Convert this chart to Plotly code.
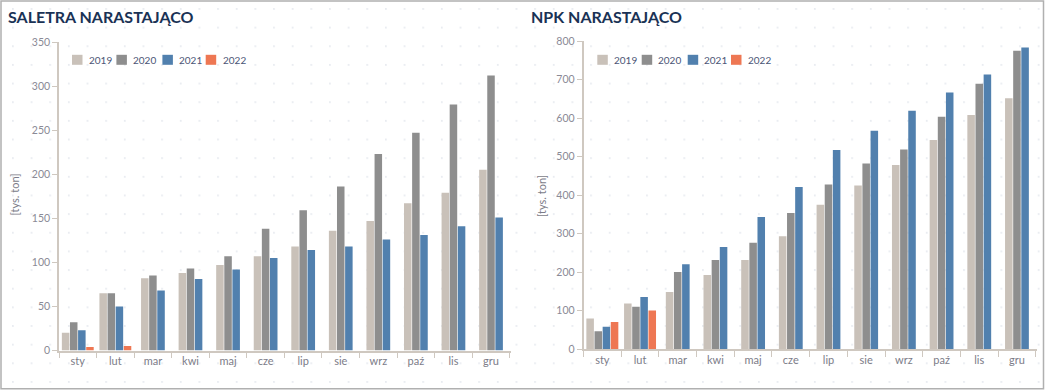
import base64
import plotly.graph_objects as go

W, H = 1046, 391

months = ["sty", "lut", "mar", "kwi", "maj", "cze", "lip", "sie", "wrz", "paź", "lis", "gru"]
years = ["2019", "2020", "2021", "2022"]

saletra_2019 = [20, 65, 82, 88, 97, 107, 118, 136, 147, 167, 179, 205]
saletra_2020 = [32, 65, 85, 93, 107, 138, 159, 186, 223, 247, 279, 312]
saletra_2021 = [23, 50, 68, 81, 92, 105, 114, 118, 126, 131, 141, 151]
saletra_2022 = [4, 5, None, None, None, None, None, None, None, None, None, None]

npk_2019 = [79, 118, 148, 192, 231, 293, 375, 425, 478, 543, 608, 651]
npk_2020 = [46, 110, 200, 231, 276, 353, 427, 482, 518, 603, 689, 775]
npk_2021 = [58, 135, 220, 265, 343, 421, 517, 567, 619, 666, 713, 783]
npk_2022 = [70, 100, None, None, None, None, None, None, None, None, None, None]

colors = {"2019": "#c9c1b9", "2020": "#8e8e8e", "2021": "#5180ae", "2022": "#ee7753"}

BAR_W = 0.2
PITCH = 0.216

AXIS_COL = "#cfc8c0"
FONT = "Lato, 'Open Sans', sans-serif"
TICK_FONT = dict(family=FONT, size=10.5, color="#8a8a96")
NAVY = "#1a3255"
LEGEND_TEXT = "#4b5576"


def px_x(p):
    return p / W


def px_y(p):
    return 1 - p / H


def offsets(series_list):
    """Per-trace offset arrays so each month group is centred on its own bar count."""
    n_per_cat = [sum(1 for s in series_list if s[i] is not None) for i in range(len(months))]
    return [[-n * PITCH / 2 + k * PITCH + (PITCH - BAR_W) / 2 for n in n_per_cat]
            for k in range(len(series_list))]


fig = go.Figure()

panels = [
    ("x", "y", [saletra_2019, saletra_2020, saletra_2021, saletra_2022]),
    ("x2", "y2", [npk_2019, npk_2020, npk_2021, npk_2022]),
]

for xa, ya, series in panels:
    offs = offsets(series)
    for k, (yr, vals) in enumerate(zip(years, series)):
        fig.add_trace(go.Bar(
            x=months, y=vals, name=yr, xaxis=xa, yaxis=ya, showlegend=False,
            width=[BAR_W] * len(months), offset=offs[k],
            marker=dict(color=colors[yr], line=dict(width=0)),
            hovertemplate="%{x} " + yr + ": %{y}<extra></extra>",
        ))

xaxis_common = dict(
    type="category", showline=True, linecolor=AXIS_COL, linewidth=1.5,
    ticks="outside", tickson="boundaries", ticklen=6, tickcolor=AXIS_COL, tickwidth=1,
    tickfont=dict(family=FONT, size=11, color="#7c7c88"),
    showgrid=False, zeroline=False, fixedrange=True,
)
yaxis_common = dict(
    showline=True, linecolor=AXIS_COL, linewidth=1.5,
    ticks="outside", ticklen=5, tickcolor=AXIS_COL, tickwidth=1,
    tickfont=TICK_FONT, showgrid=False, zeroline=False, fixedrange=True,
)

# legend (swatch + label) positions, in pixels, per panel
legend_swatch_dx = [0, 44.4, 90.4, 133.7]
legend_text_dx = [15, 58.7, 105, 148.7]
legend_origin = [72, 597.3]
legend_y_top, legend_y_bot = 54.8, 64.8

shapes = [dict(type="rect", xref="paper", yref="paper",
               x0=px_x(1), x1=px_x(1043.5), y0=px_y(388.8), y1=px_y(1),
               line=dict(color="#b0b0b0", width=1.5), fillcolor="rgba(0,0,0,0)", layer="above")]
annotations = []
for ox in legend_origin:
    for yr, sdx, tdx in zip(years, legend_swatch_dx, legend_text_dx):
        shapes.append(dict(type="rect", xref="paper", yref="paper",
                           x0=px_x(ox + sdx), x1=px_x(ox + sdx + 10.5),
                           y0=px_y(legend_y_bot), y1=px_y(legend_y_top),
                           line=dict(width=0), fillcolor=colors[yr]))
        annotations.append(dict(text=yr, xref="paper", yref="paper",
                                x=px_x(ox + tdx), y=px_y((legend_y_top + legend_y_bot) / 2),
                                xanchor="left", yanchor="middle", showarrow=False,
                                font=dict(family=FONT, size=10, color=LEGEND_TEXT)))

annotations += [
    dict(text="<b>SALETRA NARASTAJĄCO</b>", xref="paper", yref="paper", x=px_x(6), y=px_y(16.5),
         xanchor="left", yanchor="middle", showarrow=False,
         font=dict(family=FONT, size=16, color=NAVY)),
    dict(text="<b>NPK NARASTAJĄCO</b>", xref="paper", yref="paper", x=px_x(529), y=px_y(16.5),
         xanchor="left", yanchor="middle", showarrow=False,
         font=dict(family=FONT, size=16, color=NAVY)),
    dict(text="[tys. ton]", xref="paper", yref="paper", x=px_x(13.5), y=px_y(195),
         xanchor="center", yanchor="middle", textangle=-90, showarrow=False,
         font=dict(family=FONT, size=11, color="#7c7c88")),
    dict(text="[tys. ton]", xref="paper", yref="paper", x=px_x(541), y=px_y(196),
         xanchor="center", yanchor="middle", textangle=-90, showarrow=False,
         font=dict(family=FONT, size=11, color="#7c7c88")),
]

# faint dot background
dots_svg = (
    f'<svg xmlns="http://www.w3.org/2000/svg" width="{W}" height="{H}" viewBox="0 0 {W} {H}">'
    '<defs><pattern id="p" x="12" y="8" width="18.65" height="18.65" patternUnits="userSpaceOnUse">'
    '<circle cx="0.9" cy="0.9" r="0.85" fill="#e0e4eb"/></pattern></defs>'
    f'<rect x="0" y="0" width="{W}" height="{H}" fill="url(#p)"/></svg>'
)
dots_uri = "data:image/svg+xml;base64," + base64.b64encode(dots_svg.encode()).decode()

fig.update_layout(
    width=W, height=H,
    margin=dict(l=0, r=0, t=0, b=0, pad=0, autoexpand=False),
    paper_bgcolor="white", plot_bgcolor="rgba(0,0,0,0)",
    barmode="overlay", showlegend=False,
    font=dict(family=FONT),
    xaxis=dict(domain=[px_x(59), px_x(511)], anchor="y", **xaxis_common),
    yaxis=dict(domain=[px_y(350.5), px_y(42)], anchor="x", range=[0, 350], dtick=50, **yaxis_common),
    xaxis2=dict(domain=[px_x(583.5), px_x(1037)], anchor="y2", **xaxis_common),
    yaxis2=dict(domain=[px_y(349), px_y(41)], anchor="x2", range=[0, 800], dtick=100, **yaxis_common),
    images=[dict(source=dots_uri, xref="paper", yref="paper", x=0, y=1, sizex=1, sizey=1,
                 sizing="stretch", xanchor="left", yanchor="top", layer="below")],
    shapes=shapes,
    annotations=annotations,
)

fig.write_html(
    "out.html",
    config={"displayModeBar": False},
    post_script="document.body.style.margin='0px';document.body.style.overflow='hidden';",
)
